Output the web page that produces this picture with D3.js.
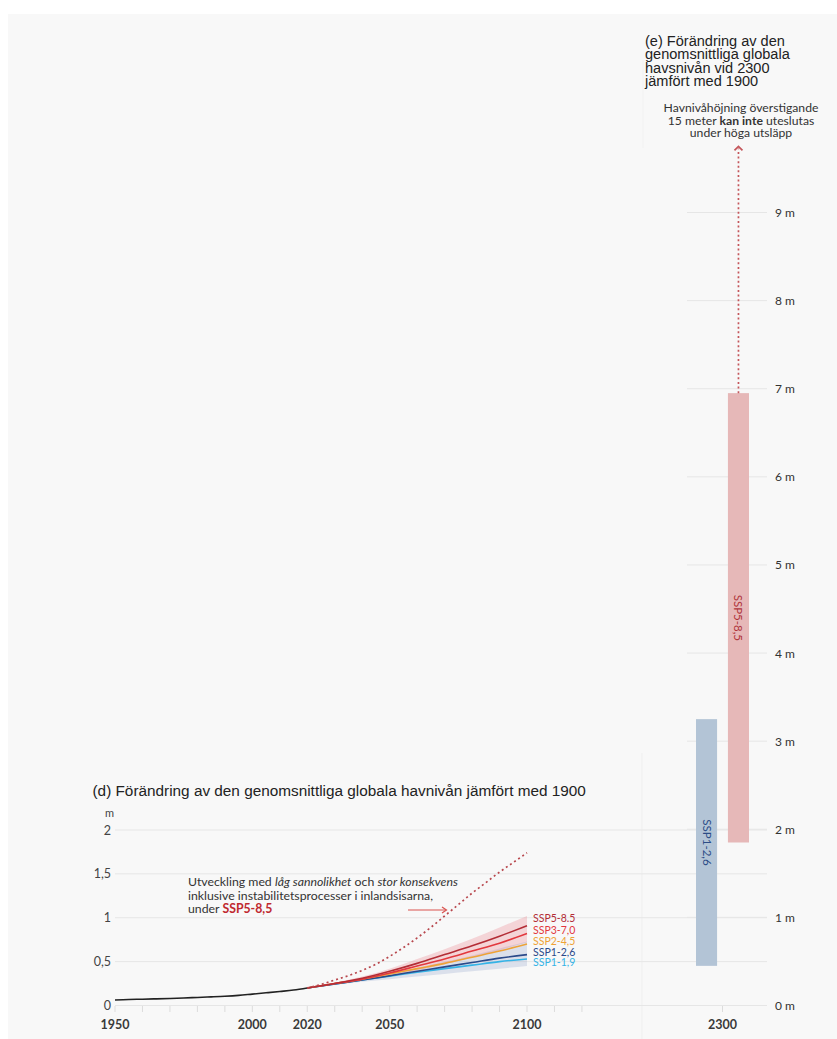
<!DOCTYPE html>
<html>
<head>
<meta charset="utf-8">
<script src="https://cdn.jsdelivr.net/npm/d3@7"></script>
<style>
html,body{margin:0;padding:0;background:#fff;}
svg{display:block;font-family:Lato, "Noto Sans", sans-serif;}
</style>
</head>
<body>
<svg id="chart" width="837" height="1039"></svg>
<script>
// ---------- DATA ----------
const histYears  = [1950,1955,1960,1965,1970,1975,1980,1985,1990,1995,2000,2005,2010,2015,2020];
const histValues = [0.063,0.069,0.072,0.076,0.080,0.085,0.092,0.098,0.105,0.115,0.130,0.145,0.160,0.176,0.200];

const projYears = [2020,2030,2040,2050,2060,2070,2080,2090,2100];
const ssp585 = [0.20,0.25,0.31,0.39,0.48,0.58,0.68,0.79,0.91];
const ssp370 = [0.20,0.25,0.30,0.37,0.45,0.53,0.62,0.71,0.82];
const ssp245 = [0.20,0.25,0.30,0.36,0.42,0.48,0.55,0.62,0.70];
const ssp126 = [0.20,0.245,0.29,0.34,0.39,0.44,0.49,0.54,0.58];
const ssp119 = [0.20,0.245,0.29,0.335,0.38,0.42,0.46,0.50,0.53];
const band585Low  = [0.20,0.24,0.29,0.34,0.40,0.47,0.55,0.63,0.72];
const band585High = [0.20,0.26,0.33,0.42,0.53,0.64,0.76,0.89,1.02];
const band126Low  = [0.20,0.235,0.27,0.30,0.33,0.36,0.39,0.42,0.45];
const band126High = [0.20,0.25,0.30,0.36,0.43,0.50,0.57,0.65,0.73];

const lowLikelyYears  = [2020,2025,2030,2035,2040,2045,2050,2055,2060,2065,2070,2075,2080,2085,2090,2095,2100];
const lowLikelyValues = [0.20,0.24,0.29,0.34,0.40,0.47,0.56,0.66,0.77,0.89,1.02,1.15,1.28,1.40,1.52,1.63,1.74];

const seriesNames  = ["SSP1-1,9","SSP1-2,6","SSP2-4,5","SSP3-7,0","SSP5-8.5"];
const seriesColors = ["#35b3e6","#2b4a8a","#eea237","#e2383e","#b32d36"];

const yTicksD      = [0,0.5,1,1.5,2];
const yTickLabelsD = ["0","0,5","1","1,5","2"];
const xTickLabelsD = [1950,2000,2020,2050,2100];

const barNames  = ["SSP1-2,6","SSP5-8,5"];
const barLow    = [0.45,1.85];
const barHigh   = [3.25,6.95];
const barColors = ["#b3c4d6","#e6b8b8"];
const barText   = ["#2c4c86","#b0353b"];
const yTicksE   = [0,1,2,3,4,5,6,7,8,9];
const arrowTopValue = 9.75;

// fit a text element's font-size so that its width equals target
function fitWidth(sel, target){
  const n = sel.node();
  const fs = parseFloat(sel.attr("font-size"));
  const w = n.getComputedTextLength();
  const nf = fs*target/w;
  sel.attr("font-size", nf);
  return nf;
}

// ---------- LAYOUT ----------
const svg = d3.select("#chart");
svg.append("rect").attr("x",8).attr("y",14).attr("width",829).attr("height",1025).attr("fill","#f8f8f8");

const xD = d3.scaleLinear().domain([1950,2100]).range([115,527]);
const yD = d3.scaleLinear().domain([0,2]).range([1005.5,830]);
const yE = d3.scaleLinear().domain([0,9]).range([1005.5,212.5]);
const xE = d3.scaleBand().domain(barNames).range([696,749]).paddingInner(0.34);

// faint separators
svg.append("line").attr("x1",642).attr("x2",642).attr("y1",753).attr("y2",1039).attr("stroke","#efefef");
svg.append("line").attr("x1",643).attr("x2",643).attr("y1",60).attr("y2",148).attr("stroke","#f2f2f2");

// ---------- PANEL D ----------
const gD = svg.append("g");
gD.selectAll("line.grid").data(yTicksD).join("line")
  .attr("x1",115).attr("x2",767)
  .attr("y1",d=>yD(d)).attr("y2",d=>yD(d))
  .attr("stroke","#e6e6e6").attr("stroke-width",1);
gD.selectAll("text.ylab").data(yTicksD).join("text")
  .attr("x",111).attr("y",d=>yD(d)+4.5)
  .attr("text-anchor","end").attr("font-size",12.5).attr("fill","#444")
  .text((d,i)=>yTickLabelsD[i]);
gD.append("text").attr("x",105).attr("y",817).attr("font-size",11).attr("fill","#444").text("m");

const tickYears = d3.range(1950,2121,10);
gD.selectAll("line.xt").data(tickYears).join("line")
  .attr("x1",d=>xD(d)).attr("x2",d=>xD(d))
  .attr("y1",1006).attr("y2",1012)
  .attr("stroke","#dcdcdc");
gD.selectAll("text.xlab").data(xTickLabelsD).join("text")
  .attr("x",d=>xD(d)).attr("y",1028.5)
  .attr("text-anchor","middle").attr("font-size",12.5).attr("font-weight",700).attr("fill","#3a3a3a")
  .text(d=>d);

const area = (lo,hi)=>d3.area().x((d,i)=>xD(projYears[i])).y0((d,i)=>yD(lo[i])).y1((d,i)=>yD(hi[i])).curve(d3.curveMonotoneX)(projYears);
gD.append("path").attr("d",area(band126Low,band126High)).attr("fill","rgba(120,140,190,0.22)");
gD.append("path").attr("d",area(band585Low,band585High)).attr("fill","rgba(235,120,130,0.28)");

const lineP = d3.line().x((d,i)=>xD(projYears[i])).y(d=>yD(d)).curve(d3.curveMonotoneX);
const allSeries = [ssp119,ssp126,ssp245,ssp370,ssp585];
allSeries.forEach((s,i)=>{
  gD.append("path").attr("d",lineP(s)).attr("fill","none")
    .attr("stroke",seriesColors[i]).attr("stroke-width",1.6);
});
const lineH = d3.line().x((d,i)=>xD(histYears[i])).y(d=>yD(d)).curve(d3.curveMonotoneX);
gD.append("path").attr("d",lineH(histValues)).attr("fill","none").attr("stroke","#222").attr("stroke-width",1.6);

const lineL = d3.line().x((d,i)=>xD(lowLikelyYears[i])).y(d=>yD(d)).curve(d3.curveMonotoneX);
gD.append("path").attr("d",lineL(lowLikelyValues)).attr("fill","none")
  .attr("stroke","#b8474d").attr("stroke-width",1.7).attr("stroke-dasharray","2,3");

const labelY = [962.5,952,941.5,930.5,918.5];
seriesNames.forEach((n,i)=>{
  gD.append("text").attr("x",533).attr("y",labelY[i]+3.8).attr("font-size",10.5)
    .attr("fill",seriesColors[i]).text(n);
});

// annotation
const ann = gD.append("g");
const a1 = ann.append("text").attr("x",188).attr("y",886).attr("font-size",11.5).attr("fill","#333");
a1.append("tspan").text("Utveckling med ");
a1.append("tspan").attr("font-style","italic").text("låg sannolikhet");
a1.append("tspan").text(" och ");
a1.append("tspan").attr("font-style","italic").text("stor konsekvens");
const annFs = fitWidth(a1, 270);
ann.append("text").attr("x",188).attr("y",899.5).attr("font-size",annFs).attr("fill","#333")
  .text("inklusive instabilitetsprocesser i inlandsisarna,");
const a3 = ann.append("text").attr("x",188).attr("y",913).attr("font-size",annFs).attr("fill","#333");
a3.append("tspan").text("under ");
a3.append("tspan").attr("font-weight",700).attr("fill","#c0282f").text("SSP5-8,5");
gD.append("line").attr("x1",408).attr("x2",446).attr("y1",910).attr("y2",910).attr("stroke","#d9534f").attr("stroke-width",1.2);
gD.append("path").attr("d","M442,907 L446.5,910 L442,913").attr("fill","none").attr("stroke","#d9534f").attr("stroke-width",1.2);

// title d
const titleD = svg.append("text").attr("x",92.5).attr("y",795.5).attr("font-size",15)
  .attr("font-family","'Liberation Sans', Arial, sans-serif").attr("fill","#222")
  .text("(d) Förändring av den genomsnittliga globala havnivån jämfört med 1900");
fitWidth(titleD, 494);

// ---------- PANEL E ----------
const gE = svg.append("g");
gE.selectAll("line.grid").data(yTicksE).join("line")
  .attr("x1",687).attr("x2",767)
  .attr("y1",d=>yE(d)).attr("y2",d=>yE(d))
  .attr("stroke","#e6e6e6");
gE.selectAll("text.ylab").data(yTicksE).join("text")
  .attr("x",775).attr("y",d=>yE(d)+4.5)
  .attr("font-size",12).attr("fill","#333")
  .text(d=>d+" m");

gE.selectAll("rect.bar").data(barNames).join("rect")
  .attr("x",d=>xE(d)).attr("width",xE.bandwidth())
  .attr("y",(d,i)=>yE(barHigh[i])).attr("height",(d,i)=>yE(barLow[i])-yE(barHigh[i]))
  .attr("fill",(d,i)=>barColors[i]);
gE.selectAll("text.barlab").data(barNames).join("text")
  .attr("transform",(d,i)=>`translate(${xE(d)+xE.bandwidth()/2-4},${(yE(barLow[i])+yE(barHigh[i]))/2}) rotate(90)`)
  .attr("text-anchor","middle").attr("font-size",11.5)
  .attr("fill",(d,i)=>barText[i]).text(d=>d);

const xArrow = xE(barNames[1])+xE.bandwidth()/2;
gE.append("line").attr("x1",xArrow).attr("x2",xArrow)
  .attr("y1",yE(barHigh[1])).attr("y2",yE(arrowTopValue)+2)
  .attr("stroke","#c4565b").attr("stroke-width",1.7).attr("stroke-dasharray","2,2.6");
gE.append("path").attr("d",`M${xArrow-4},${yE(arrowTopValue)+4} L${xArrow},${yE(arrowTopValue)} L${xArrow+4},${yE(arrowTopValue)+4}`)
  .attr("fill","none").attr("stroke","#c4565b").attr("stroke-width",1.7);

gE.append("line").attr("x1",722.5).attr("x2",722.5).attr("y1",1006).attr("y2",1012).attr("stroke","#dcdcdc");
gE.append("text").attr("x",722.5).attr("y",1028.5).attr("text-anchor","middle").attr("font-size",12.5)
  .attr("font-weight",700).attr("fill","#3a3a3a").text("2300");

// title e
const titleE = ["(e) Förändring av den","genomsnittliga globala","havsnivån vid 2300","jämfört med 1900"];
const tE = svg.append("g").selectAll("text").data(titleE).join("text")
  .attr("x",645).attr("y",(d,i)=>45.5+i*13.6).attr("font-size",15)
  .attr("font-family","'Liberation Sans', Arial, sans-serif").attr("fill","#222").text(d=>d);
const fsE = fitWidth(d3.select(tE.nodes()[0]), 140);
tE.attr("font-size", fsE);

// top annotation
const annE = svg.append("g").attr("fill","#333");
const e1 = annE.append("text").attr("x",741).attr("y",112).attr("font-size",11).attr("text-anchor","middle").text("Havnivåhöjning överstigande");
const fsA = fitWidth(e1, 155);
const e2 = annE.append("text").attr("x",741).attr("y",124.5).attr("font-size",fsA).attr("text-anchor","middle");
e2.append("tspan").text("15 meter ");
e2.append("tspan").attr("font-weight",700).text("kan inte");
e2.append("tspan").text(" uteslutas");
annE.append("text").attr("x",741).attr("y",137).attr("font-size",fsA).attr("text-anchor","middle").text("under höga utsläpp");
</script>
</body>
</html>
